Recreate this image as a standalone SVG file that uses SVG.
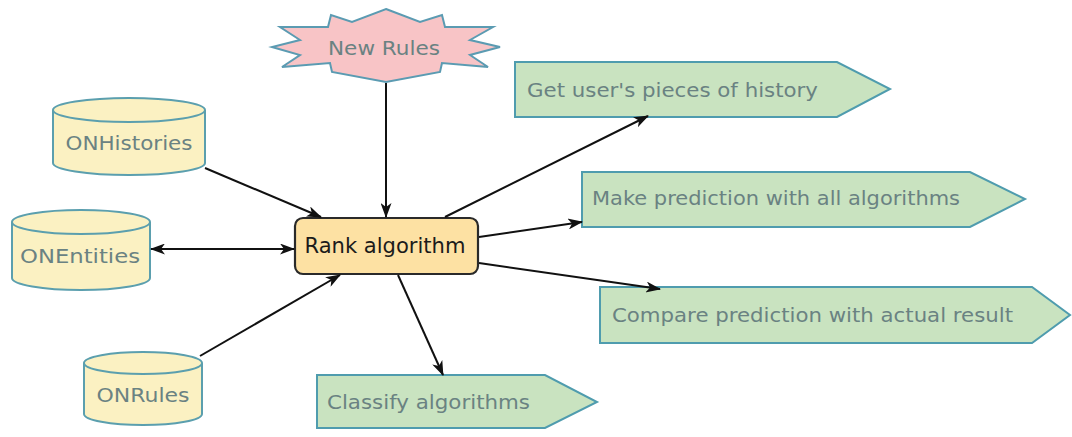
<svg xmlns="http://www.w3.org/2000/svg" width="1072" height="437" viewBox="0 0 1072 437">
  <defs>
    <marker id="arrow" viewBox="0 0 15 11" refX="14" refY="5.5" markerWidth="15" markerHeight="11" markerUnits="userSpaceOnUse" orient="auto-start-reverse">
      <path d="M0,0 L15,5.5 L0,11 L4,5.5 Z" fill="#111"/>
    </marker>
    <style>
      .db { fill: #fbf1c2; stroke: #5b9fae; stroke-width: 2; }
      .step { fill: #c9e3c0; stroke: #4f9cae; stroke-width: 2; }
      .burst { fill: #f8c4c6; stroke: #5b9bb2; stroke-width: 2; }
      .core { fill: #fde1a3; stroke: #2a2a2a; stroke-width: 2.2; }
      .lbl { font-family: "DejaVu Sans", Verdana, sans-serif; font-size: 20px; fill: #6a8282; }
      .lbl-main { font-family: "DejaVu Sans", Verdana, sans-serif; font-size: 21px; fill: #1b1b1b; }
      .edge { stroke: #111; stroke-width: 2; fill: none; }
    </style>
  </defs>
  <rect width="1072" height="437" fill="#ffffff"/>

  <!-- rule source -->
  <g id="new-rules">
    <polygon class="burst" points="386,9 420,22 442,15 445,27 493,27 470,40 500,47 470,55 488,67 442,63 440,72 386,82 332,72 330,63 282,67 300,55 272,47 300,40 280,27 328,27 331,15 352,22"/>
    <text class="lbl" x="384" y="55" text-anchor="middle" textLength="112" lengthAdjust="spacingAndGlyphs">New Rules</text>
  </g>

  <!-- data stores -->
  <g id="onhistories">
    <path class="db" d="M53,110 L53,163 A76,12 0 0 0 205,163 L205,110 A76,12 0 0 0 53,110 Z"/>
    <path class="db" d="M53,110 A76,12 0 0 0 205,110" fill="none"/>
    <text class="lbl" x="129" y="150" text-anchor="middle" textLength="127" lengthAdjust="spacingAndGlyphs">ONHistories</text>
  </g>
  <g id="onentities">
    <path class="db" d="M12,222 L12,278 A69,12 0 0 0 150,278 L150,222 A69,12 0 0 0 12,222 Z"/>
    <path class="db" d="M12,222 A69,12 0 0 0 150,222" fill="none"/>
    <text class="lbl" x="80" y="263" text-anchor="middle" textLength="120" lengthAdjust="spacingAndGlyphs">ONEntities</text>
  </g>
  <g id="onrules">
    <path class="db" d="M84,363 L84,414 A59,11 0 0 0 202,414 L202,363 A59,11 0 0 0 84,363 Z"/>
    <path class="db" d="M84,363 A59,11 0 0 0 202,363" fill="none"/>
    <text class="lbl" x="143" y="402" text-anchor="middle" textLength="93" lengthAdjust="spacingAndGlyphs">ONRules</text>
  </g>

  <!-- central process -->
  <g id="rank-algorithm">
    <rect class="core" x="295" y="218" width="183" height="56" rx="8" ry="8"/>
    <text class="lbl-main" x="385" y="253" text-anchor="middle" textLength="161" lengthAdjust="spacingAndGlyphs">Rank algorithm</text>
  </g>

  <!-- process steps -->
  <g id="get-history">
    <polygon class="step" points="515,62 837,62 890,89 837,117 515,117"/>
    <text class="lbl" x="527" y="97" textLength="291" lengthAdjust="spacingAndGlyphs">Get user's pieces of history</text>
  </g>
  <g id="make-prediction">
    <polygon class="step" points="582,172 970,172 1025,199 970,227 582,227"/>
    <text class="lbl" x="592" y="205" textLength="368" lengthAdjust="spacingAndGlyphs">Make prediction with all algorithms</text>
  </g>
  <g id="compare-prediction">
    <polygon class="step" points="600,287 1032,287 1070,315 1032,343 600,343"/>
    <text class="lbl" x="612" y="322" textLength="401" lengthAdjust="spacingAndGlyphs">Compare prediction with actual result</text>
  </g>
  <g id="classify">
    <polygon class="step" points="317,375 545,375 597,402 545,428 317,428"/>
    <text class="lbl" x="327" y="409" textLength="203" lengthAdjust="spacingAndGlyphs">Classify algorithms</text>
  </g>

  <!-- connectors, drawn over the shapes so every arrowhead stays visible -->
  <g id="connectors">
    <line class="edge" x1="386" y1="83" x2="386" y2="217" marker-end="url(#arrow)"/>
    <line class="edge" x1="205" y1="168" x2="321" y2="217" marker-end="url(#arrow)"/>
    <line class="edge" x1="151" y1="249" x2="294" y2="249" marker-start="url(#arrow)" marker-end="url(#arrow)"/>
    <line class="edge" x1="200" y1="356" x2="340" y2="275" marker-end="url(#arrow)"/>
    <line class="edge" x1="445" y1="217" x2="648" y2="116" marker-end="url(#arrow)"/>
    <line class="edge" x1="479" y1="237" x2="582" y2="222" marker-end="url(#arrow)"/>
    <line class="edge" x1="479" y1="263" x2="660" y2="289" marker-end="url(#arrow)"/>
    <line class="edge" x1="398" y1="275" x2="443" y2="375" marker-end="url(#arrow)"/>
  </g>
</svg>
